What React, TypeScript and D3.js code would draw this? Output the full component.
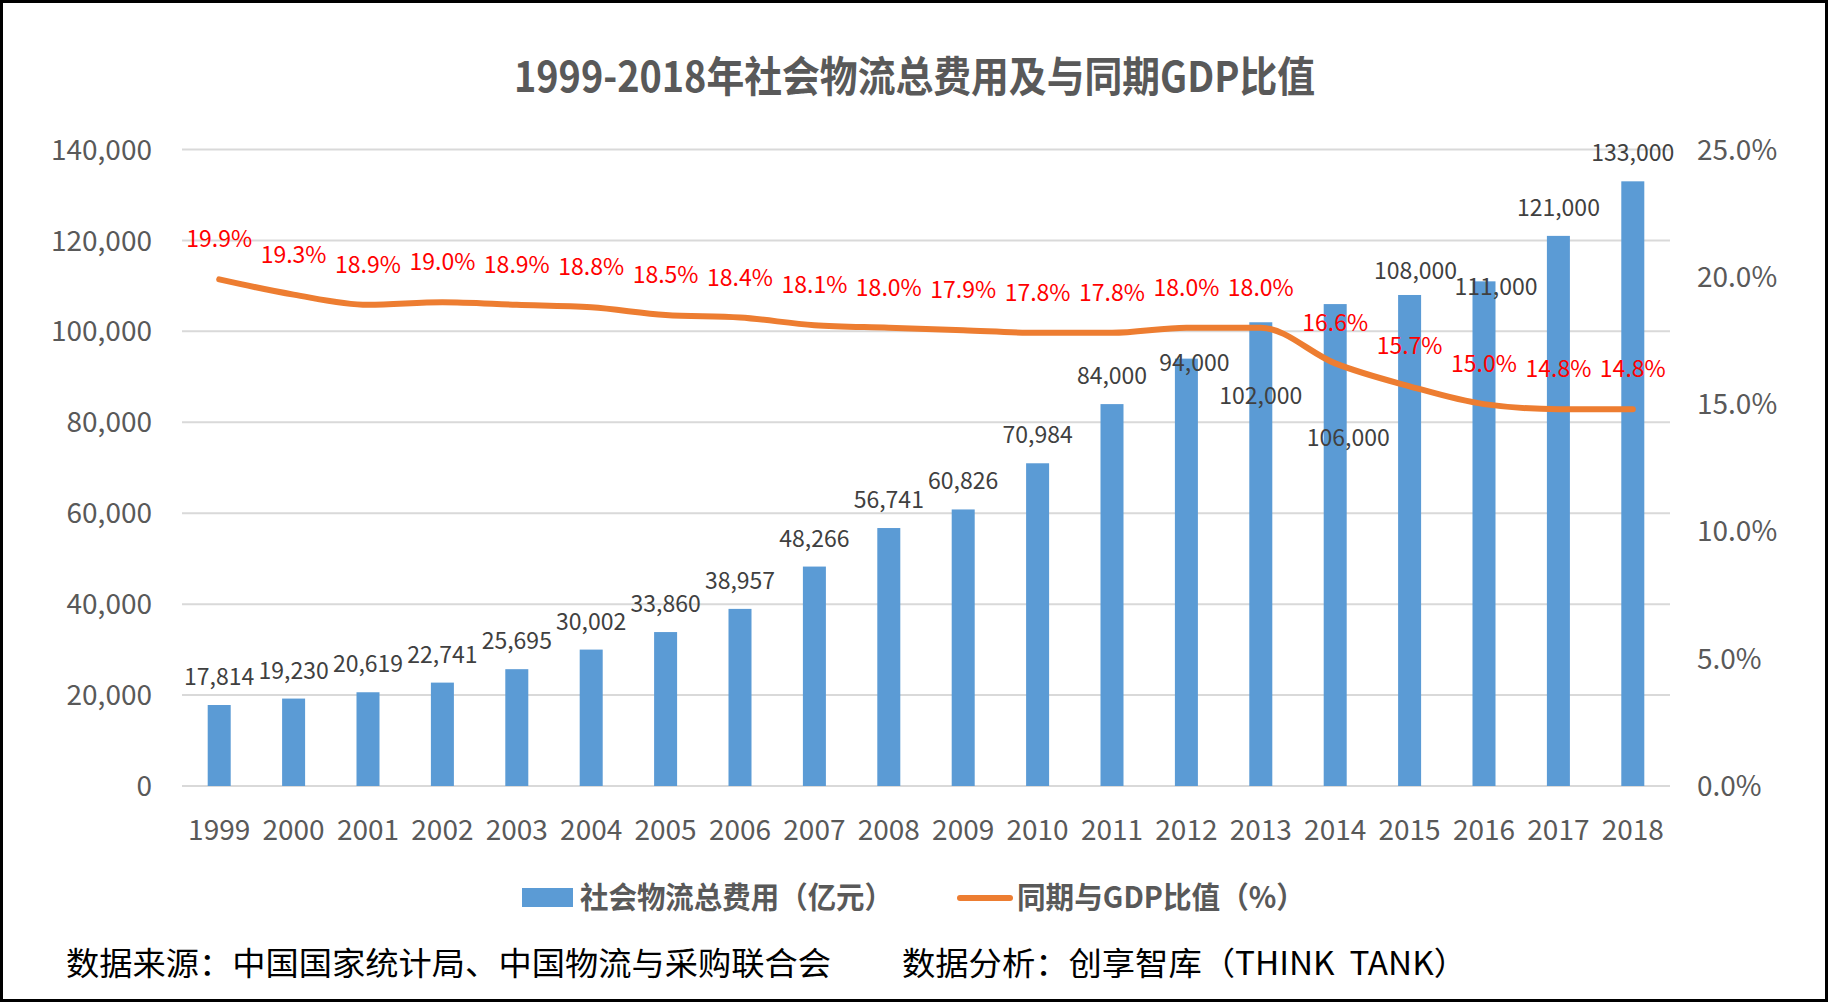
import React from 'react';
import * as d3 from 'd3';

const years = ['1999','2000','2001','2002','2003','2004','2005','2006','2007','2008','2009','2010','2011','2012','2013','2014','2015','2016','2017','2018'];
const costs = [17814,19230,20619,22741,25695,30002,33860,38957,48266,56741,60826,70984,84000,94000,102000,106000,108000,111000,121000,133000];
const ratios = [19.9,19.3,18.9,19.0,18.9,18.8,18.5,18.4,18.1,18.0,17.9,17.8,17.8,18.0,18.0,16.6,15.7,15.0,14.8,14.8];
const leftTicks = [0,20000,40000,60000,80000,100000,120000,140000];
const rightTicks = [0,5,10,15,20,25];
const titleText = '1999-2018年社会物流总费用及与同期GDP比值';
const legendBar = '社会物流总费用（亿元）';
const legendLine = '同期与GDP比值（%）';
const sourceText = '数据来源：中国国家统计局、中国物流与采购联合会';
const analysisText = '数据分析：创享智库（THINK\u00a0\u00a0TANK）';

// manual label adjustments (pixels) as in the original chart
const barLabelShift: Record<string, [number, number]> = {
  '2012': [8, 32.7],
  '2013': [0, 102],
  '2014': [13, 161.6],
  '2015': [6, 4.3],
  '2016': [12, 34],
};

const W = 1828;
const H = 1002;
const FONT = '"Noto Sans CJK SC", "Noto Sans", sans-serif';

export default function App() {
  const x = d3.scaleBand<string>().domain(years).range([182, 1670]).paddingInner(0).paddingOuter(0);
  const yL = d3.scaleLinear().domain([0, 140000]).range([786, 149.5]);
  const yR = d3.scaleLinear().domain([0, 25]).range([786, 149.5]);
  const barW = 23;
  const cx = (yr: string) => (x(yr) as number) + x.bandwidth() / 2;
  const fmt = d3.format(',');
  const line = d3
    .line<number>()
    .x((_, i) => cx(years[i]))
    .y((d) => yR(d))
    .curve(d3.curveMonotoneX);

  return (
    <svg
      width={W}
      height={H}
      style={{ position: 'absolute', left: 0, top: 0, display: 'block', background: '#fff' }}
      fontFamily={FONT}
    >
      <rect x={0} y={0} width={W} height={H} fill="#fff" />
      {/* title */}
      <text
        x={914.5}
        y={92}
        textAnchor="middle"
        fontSize={42}
        fontWeight={700}
        fill="#595959"
        textLength={801}
        lengthAdjust="spacingAndGlyphs"
      >
        {titleText}
      </text>

      {/* gridlines */}
      {leftTicks.map((t) => (
        <line key={'g' + t} x1={182} x2={1670} y1={yL(t)} y2={yL(t)} stroke="#D9D9D9" strokeWidth={2} />
      ))}

      {/* left axis labels */}
      {leftTicks.map((t) => (
        <text key={'l' + t} x={152} y={yL(t)} dy="0.36em" textAnchor="end" fontSize={28} fill="#595959">
          {fmt(t)}
        </text>
      ))}

      {/* right axis labels */}
      {rightTicks.map((t) => (
        <text key={'r' + t} x={1697} y={yR(t)} dy="0.36em" textAnchor="start" fontSize={28} fill="#595959">
          {t.toFixed(1) + '%'}
        </text>
      ))}

      {/* x labels */}
      {years.map((yr) => (
        <text key={'x' + yr} x={cx(yr)} y={840} textAnchor="middle" fontSize={28} fill="#595959">
          {yr}
        </text>
      ))}

      {/* bars */}
      {costs.map((v, i) => (
        <rect
          key={'b' + i}
          x={cx(years[i]) - barW / 2}
          y={yL(v)}
          width={barW}
          height={yL(0) - yL(v)}
          fill="#5B9BD5"
        />
      ))}

      {/* line */}
      <path d={line(ratios) || ''} fill="none" stroke="#ED7D31" strokeWidth={6} strokeLinecap="round" strokeLinejoin="round" />

      {/* bar labels */}
      {costs.map((v, i) => {
        const s = barLabelShift[years[i]] || [0, 0];
        return (
          <text
            key={'bl' + i}
            x={cx(years[i]) + s[0]}
            y={yL(v) - 20 + s[1]}
            textAnchor="middle"
            fontSize={23}
            fill="#404040"
          >
            {fmt(v)}
          </text>
        );
      })}

      {/* line labels */}
      {ratios.map((v, i) => (
        <text key={'ll' + i} x={cx(years[i])} y={yR(v) - 32} textAnchor="middle" fontSize={23} fill="#FF0000">
          {v.toFixed(1) + '%'}
        </text>
      ))}

      {/* legend */}
      <rect x={522} y={888} width={51} height={19} fill="#5B9BD5" />
      <text x={580} y={908} fontSize={30} fontWeight={700} fill="#595959" textLength={313} lengthAdjust="spacingAndGlyphs">
        {legendBar}
      </text>
      <line x1={960} x2={1010} y1={898} y2={898} stroke="#ED7D31" strokeWidth={6} strokeLinecap="round" />
      <text x={1017} y={908} fontSize={30} fontWeight={700} fill="#595959" textLength={288} lengthAdjust="spacingAndGlyphs">
        {legendLine}
      </text>

      {/* source */}
      <text x={66} y={975} fontSize={32} fill="#000" textLength={765} lengthAdjust="spacingAndGlyphs">
        {sourceText}
      </text>
      <text x={902} y={975} fontSize={32} fill="#000" textLength={565} lengthAdjust="spacingAndGlyphs">
        {analysisText}
      </text>

      {/* frame */}
      <rect x={1.5} y={1.5} width={W - 3} height={H - 3} fill="none" stroke="#000" strokeWidth={3} />
    </svg>
  );
}
